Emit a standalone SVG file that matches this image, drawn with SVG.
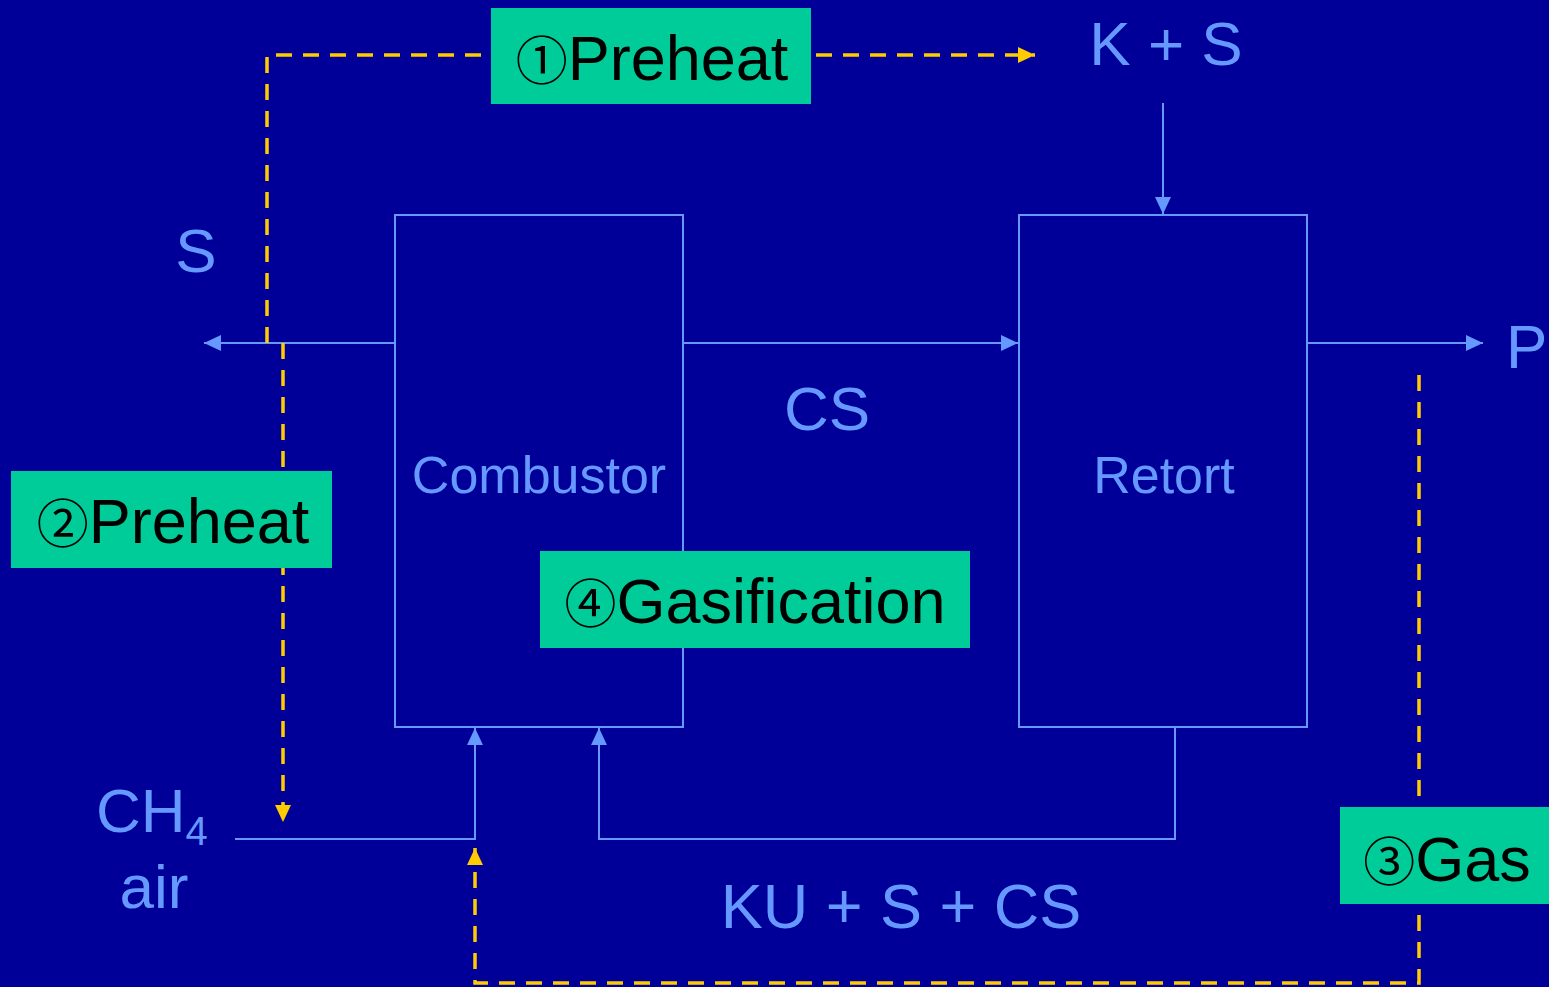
<svg xmlns="http://www.w3.org/2000/svg" width="1549" height="987" viewBox="0 0 1549 987">
<style>
.bx{fill:none;stroke:#6699FF;stroke-width:2}
.ln{fill:none;stroke:#6699FF;stroke-width:2}
.ds{fill:none;stroke:#FFCC00;stroke-width:3.5;stroke-dasharray:16 11}
.lb{font-family:"Liberation Sans",Arial,sans-serif;fill:#6699FF}
.tag{fill:#00CC99}
.tt{font-family:"Liberation Sans",Arial,sans-serif;font-size:63px;fill:#000}
.cn{font-family:"Noto Sans CJK JP","Liberation Serif",serif;font-size:52px}
</style>
<defs>
<marker id="ab" markerUnits="userSpaceOnUse" markerWidth="18" markerHeight="16" refX="17" refY="8" orient="auto"><path d="M0,0 L17,8 L0,16 z" fill="#6699FF"/></marker>
<marker id="ay" markerUnits="userSpaceOnUse" markerWidth="18" markerHeight="16" refX="17" refY="8" orient="auto"><path d="M0,0 L17,8 L0,16 z" fill="#FFCC00"/></marker>
</defs>
<rect width="1549" height="987" fill="#000099"/>
<g id="connectors">
<path class="ln" d="M395,343 H204" marker-end="url(#ab)"/>
<path class="ln" d="M683,343 H1018" marker-end="url(#ab)"/>
<path class="ln" d="M1307,343 H1483" marker-end="url(#ab)"/>
<path class="ln" d="M1163,103 V214" marker-end="url(#ab)"/>
<path class="ln" d="M235,839 H475 V728" marker-end="url(#ab)"/>
<path class="ln" d="M1175,727 V839 H599 V728" marker-end="url(#ab)"/>
<path class="ds" d="M267,343 V55 H1035" marker-end="url(#ay)"/>
<path class="ds" d="M283,343 V822" marker-end="url(#ay)"/>
<path class="ds" d="M1419,375 V983 H475 V848" marker-end="url(#ay)"/>
</g>
<g id="combustor">
<rect class="bx" x="395" y="215" width="288" height="512"/>
<text class="lb" x="539" y="493" font-size="52" text-anchor="middle">Combustor</text>
</g>
<g id="retort">
<rect class="bx" x="1019" y="215" width="288" height="512"/>
<text class="lb" x="1164" y="493" font-size="52" text-anchor="middle">Retort</text>
</g>
<g id="label-ks"><text class="lb" x="1166" y="65" font-size="62" text-anchor="middle">K + S</text></g>
<g id="label-s"><text class="lb" x="196" y="272" font-size="62" text-anchor="middle">S</text></g>
<g id="label-p"><text class="lb" x="1506" y="368" font-size="62">P</text></g>
<g id="label-cs"><text class="lb" x="827" y="430" font-size="62" text-anchor="middle">CS</text></g>
<g id="label-ch4"><text class="lb" x="96" y="832" font-size="62">CH<tspan font-size="40" dy="13">4</tspan></text>
<text class="lb" x="154" y="908" font-size="62" text-anchor="middle">air</text></g>
<g id="label-ku"><text class="lb" x="901" y="928" font-size="63" text-anchor="middle">KU + S + CS</text></g>
<g id="tag1"><rect class="tag" x="491" y="8" width="320" height="96"/>
<text class="tt" x="652" y="80" text-anchor="middle"><tspan class="cn">①</tspan>Preheat</text></g>
<g id="tag2"><rect class="tag" x="11" y="471" width="321" height="97"/>
<text class="tt" x="173" y="543" text-anchor="middle"><tspan class="cn">②</tspan>Preheat</text></g>
<g id="tag3"><rect class="tag" x="1340" y="807" width="209" height="97"/>
<text class="tt" x="1447" y="881" text-anchor="middle"><tspan class="cn">③</tspan>Gas</text></g>
<g id="tag4"><rect class="tag" x="540" y="551" width="430" height="97"/>
<text class="tt" x="755" y="623" text-anchor="middle"><tspan class="cn">④</tspan>Gasification</text></g>
</svg>
